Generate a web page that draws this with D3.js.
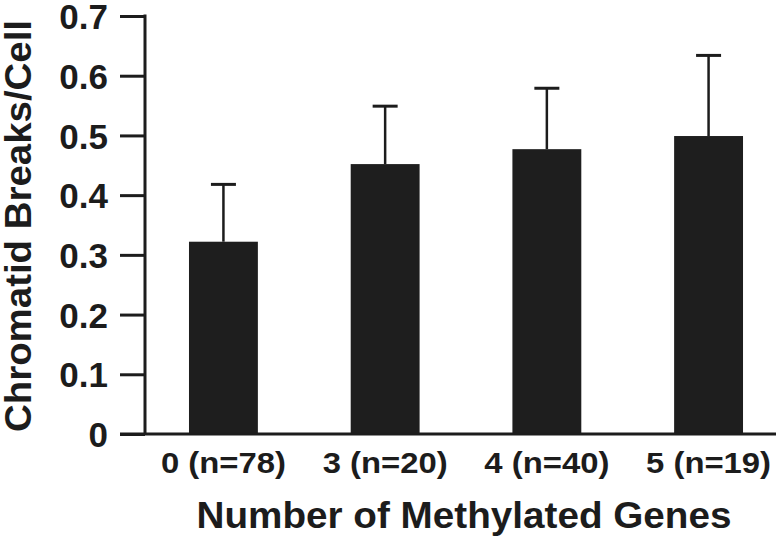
<!DOCTYPE html>
<html>
<head>
<meta charset="utf-8">
<script src="https://cdn.jsdelivr.net/npm/d3@7"></script>
<style>
  body { margin: 0; background: #fff; }
  svg { display: block; }
  text { font-family: "Liberation Sans", Arial, sans-serif; font-weight: bold; fill: #1c1c1c; }
</style>
</head>
<body>
<svg id="chart" width="778" height="541"></svg>
<script>
// data
var categories = ["0 (n=78)", "3 (n=20)", "4 (n=40)", "5 (n=19)"];
var means = [0.322, 0.452, 0.477, 0.499];
var errTop = [0.418, 0.549, 0.579, 0.634];
var yTicks = [0, 0.1, 0.2, 0.3, 0.4, 0.5, 0.6, 0.7];

var svg = d3.select("#chart");
var ink = "#1c1c1c";

var x0 = 145, yBase = 434, yTop = 16;

var x = d3.scaleBand()
    .domain(categories)
    .range([x0, 787])
    .paddingInner(0.574)
    .paddingOuter(0.272);

var y = d3.scaleLinear()
    .domain([0, 0.7])
    .range([yBase, yTop]);

// y axis
var yAxis = svg.append("g")
    .attr("transform", "translate(" + x0 + ",0)")
    .call(d3.axisLeft(y).tickValues(yTicks).tickSize(25).tickPadding(12)
      .tickFormat(function(d) { return d === 0 ? "0" : d3.format(".1f")(d); }));
yAxis.select(".domain").remove();
yAxis.selectAll(".tick line").attr("stroke", ink).attr("stroke-width", 3);
yAxis.selectAll(".tick text")
    .attr("font-size", 35)
    .attr("font-family", "Liberation Sans, Arial, sans-serif")
    .attr("font-weight", "bold")
    .attr("fill", ink)
    .attr("dy", "0.36em");

svg.append("line")
    .attr("x1", x0).attr("x2", x0)
    .attr("y1", y(0.7) - 1.5).attr("y2", yBase)
    .attr("stroke", ink).attr("stroke-width", 3);

// bars
svg.append("g").selectAll("rect")
    .data(categories)
    .enter().append("rect")
    .attr("x", function(d) { return x(d); })
    .attr("y", function(d, i) { return y(means[i]); })
    .attr("width", x.bandwidth())
    .attr("height", function(d, i) { return yBase - y(means[i]); })
    .attr("fill", "#1e1e1e");

// error bars (upper only)
var err = svg.append("g").selectAll("g")
    .data(categories)
    .enter().append("g");
err.append("line")
    .attr("x1", function(d) { return x(d) + x.bandwidth() / 2; })
    .attr("x2", function(d) { return x(d) + x.bandwidth() / 2; })
    .attr("y1", function(d, i) { return y(means[i]); })
    .attr("y2", function(d, i) { return y(errTop[i]); })
    .attr("stroke", ink).attr("stroke-width", 2.5);
err.append("line")
    .attr("x1", function(d) { return x(d) + x.bandwidth() / 2 - 12.5; })
    .attr("x2", function(d) { return x(d) + x.bandwidth() / 2 + 12.5; })
    .attr("y1", function(d, i) { return y(errTop[i]); })
    .attr("y2", function(d, i) { return y(errTop[i]); })
    .attr("stroke", ink).attr("stroke-width", 3);

// x axis baseline
svg.append("line")
    .attr("x1", 120).attr("x2", 776)
    .attr("y1", yBase).attr("y2", yBase)
    .attr("stroke", ink).attr("stroke-width", 3);

// category labels
svg.append("g").selectAll("text")
    .data(categories)
    .enter().append("text")
    .attr("x", function(d) { return x(d) + x.bandwidth() / 2; })
    .attr("y", 473)
    .attr("text-anchor", "middle")
    .attr("font-size", 30)
    .attr("textLength", 125)
    .attr("lengthAdjust", "spacingAndGlyphs")
    .text(function(d) { return d; });

// axis titles
svg.append("text")
    .attr("x", 464)
    .attr("y", 528)
    .attr("text-anchor", "middle")
    .attr("font-size", 37)
    .attr("textLength", 535)
    .attr("lengthAdjust", "spacingAndGlyphs")
    .text("Number of Methylated Genes");

svg.append("text")
    .attr("transform", "translate(31,226) rotate(-90)")
    .attr("text-anchor", "middle")
    .attr("font-size", 36)
    .attr("textLength", 412)
    .attr("lengthAdjust", "spacingAndGlyphs")
    .text("Chromatid Breaks/Cell");
</script>
</body>
</html>
